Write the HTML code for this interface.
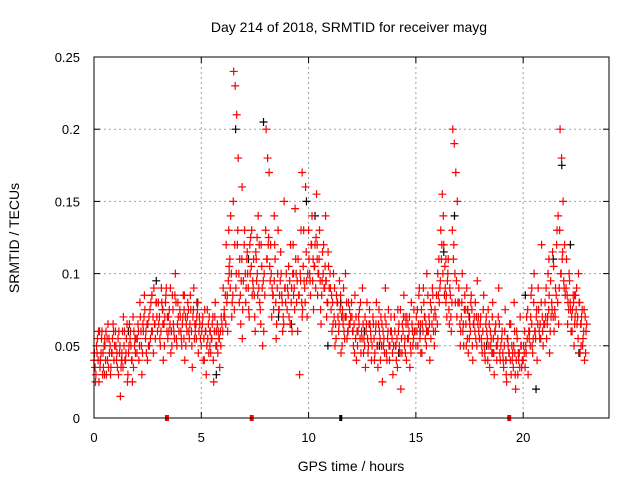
<!DOCTYPE html>
<html><head><meta charset="utf-8"><style>
html,body{margin:0;padding:0;background:#fff;}
svg{display:block;font-family:"Liberation Sans",sans-serif;}
</style></head><body>
<svg id="chart" width="640" height="480">
<text x="349" y="32" text-anchor="middle" font-size="14">Day 214 of 2018, SRMTID for receiver mayg</text>
<text transform="translate(19,238) rotate(-90)" text-anchor="middle" font-size="14">SRMTID / TECUs</text>
<text x="351" y="471" text-anchor="middle" font-size="14">GPS time / hours</text>
<g id="grid"></g>
<g id="ticks"></g>
<g id="black"></g>
<g id="red"></g>
<rect x="94" y="57" width="515" height="361" fill="none" stroke="#000" stroke-width="1"/>
</svg>
<script>
const xTicks=[0,5,10,15,20];
const yTicks=[0,0.05,0.1,0.15,0.2,0.25];
const yTickLabels=["0","0.05","0.1","0.15","0.2","0.25"];
const offsets=[0.02,0.09,0.16,0.23,0.3,0.37,0.44,0.51,0.58,0.65,0.72,0.79,0.86,0.93];
const offsets2=[0.05,0.12,0.19,0.26,0.33,0.4,0.47,0.54,0.61,0.68,0.75,0.82,0.89,0.96];
const offsets3=[0.0,0.07,0.14,0.21,0.28,0.35,0.42,0.49,0.56,0.63,0.7,0.77,0.84,0.91];
const redByHour=[
[.045,.03,.055,.025,.04,.06,.035,.05,.03,.065,.045,.035,.055,.04],
[.05,.035,.06,.015,.045,.07,.04,.055,.03,.065,.05,.025,.06,.045],
[.055,.04,.07,.03,.06,.075,.045,.065,.05,.08,.06,.09,.055,.07],
[.065,.05,.08,.04,.07,.09,.055,.075,.045,.085,.06,.1,.05,.07],
[.07,.05,.085,.04,.065,.08,.055,.075,.035,.09,.06,.07,.045,.065],
[.06,.04,.075,.03,.055,.07,.045,.065,.025,.08,.05,.06,.035,.07],
[.09,.07,.12,.06,.1,.14,.08,.24,.23,.21,.18,.11,.095,.075],
[.13,.09,.1,.07,.125,.085,.11,.06,.095,.14,.08,.12,.05,.1],
[.2,.18,.17,.12,.09,.075,.11,.065,.13,.085,.1,.06,.15,.08],
[.09,.07,.12,.06,.1,.145,.08,.11,.03,.13,.075,.095,.16,.07],
[.11,.085,.14,.075,.12,.155,.1,.13,.065,.115,.09,.14,.08,.105],
[.09,.06,.1,.05,.085,.07,.095,.045,.075,.06,.1,.055,.08,.065],
[.07,.05,.085,.04,.06,.075,.045,.09,.055,.035,.08,.05,.065,.04],
[.065,.045,.08,.035,.06,.07,.025,.055,.09,.04,.075,.05,.06,.03],
[.06,.04,.075,.05,.02,.065,.085,.045,.07,.055,.035,.08,.05,.06],
[.07,.05,.09,.045,.065,.08,.055,.1,.06,.04,.075,.085,.05,.07],
[.1,.08,.13,.155,.12,.09,.07,.11,.09,.06,.2,.19,.17,.15],
[.08,.06,.1,.05,.075,.09,.045,.065,.085,.04,.07,.055,.095,.06],
[.07,.045,.085,.04,.06,.075,.035,.055,.08,.03,.065,.05,.09,.04],
[.06,.035,.075,.025,.05,.065,.03,.045,.08,.02,.055,.04,.07,.035],
[.05,.035,.07,.03,.06,.085,.045,.1,.055,.04,.075,.065,.12,.05],
[.08,.055,.1,.045,.07,.115,.06,.09,.13,.065,.2,.18,.15,.12],
[.11,.08,.095,.06,.075,.05,.085,.065,.1,.045,.07,.055,.04,.06]
];
const redByHour2=[
[.035,.05,.04,.06,.045,.03,.05,.04,.055,.035,.05,.045,.065,.05],
[.04,.055,.045,.035,.06,.05,.04,.065,.045,.055,.04,.07,.05,.055],
[.065,.05,.06,.045,.07,.055,.065,.05,.075,.06,.07,.065,.08,.06],
[.07,.06,.075,.065,.08,.06,.07,.065,.06,.075,.055,.08,.065,.06],
[.06,.065,.055,.07,.06,.075,.065,.06,.07,.055,.065,.075,.06,.055],
[.065,.055,.06,.05,.065,.06,.055,.07,.06,.05,.065,.055,.06,.065],
[.07,.085,.08,.095,.11,.1,.085,.075,.09,.12,.1,.085,.11,.095],
[.1,.11,.09,.12,.105,.095,.085,.115,.1,.09,.075,.105,.095,.085],
[.11,.12,.105,.1,.085,.095,.08,.09,.075,.095,.085,.07,.09,.1],
[.085,.095,.08,.1,.09,.11,.095,.085,.1,.08,.105,.09,.115,.1],
[.1,.12,.095,.105,.09,.11,.1,.095,.085,.1,.09,.095,.08,.09],
[.075,.08,.07,.065,.08,.06,.075,.07,.065,.055,.07,.06,.065,.07],
[.06,.065,.055,.06,.07,.055,.06,.065,.05,.06,.055,.065,.06,.05],
[.055,.06,.05,.065,.055,.05,.06,.045,.065,.055,.05,.06,.055,.05],
[.05,.055,.06,.045,.055,.06,.05,.065,.055,.06,.05,.065,.055,.06],
[.06,.065,.055,.075,.06,.07,.065,.06,.07,.08,.065,.06,.075,.085],
[.085,.09,.11,.1,.085,.08,.095,.075,.085,.08,.11,.1,.095,.08],
[.065,.07,.06,.075,.065,.055,.07,.06,.075,.065,.06,.07,.065,.055],
[.055,.06,.05,.065,.055,.05,.06,.045,.055,.06,.05,.055,.065,.05],
[.045,.05,.04,.055,.045,.04,.05,.035,.045,.04,.03,.045,.05,.04],
[.045,.05,.055,.06,.05,.065,.055,.06,.07,.065,.06,.055,.07,.065],
[.07,.065,.075,.06,.08,.07,.075,.085,.08,.09,.1,.11,.095,.085],
[.085,.075,.08,.07,.085,.065,.075,.07,.08,.065,.075,.06,.07,.065]
];
const redByHour3=[
[.04,.025,.045,.06,.035,.055,.045,.03,.06,.04,.055,.03,.045,.06],
[.06,.045,.03,.05,.04,.035,.06,.045,.025,.05,.06,.04,.035,.055],
[.045,.06,.08,.05,.065,.085,.06,.04,.07,.055,.085,.045,.065,.08],
[.08,.055,.09,.065,.05,.085,.07,.06,.09,.05,.065,.085,.055,.08],
[.075,.055,.07,.085,.05,.07,.06,.085,.05,.075,.065,.055,.08,.07],
[.05,.07,.04,.06,.075,.045,.06,.055,.04,.07,.06,.045,.055,.05],
[.06,.075,.065,.085,.13,.09,.07,.15,.12,.1,.13,.08,.065,.055],
[.12,.08,.115,.075,.1,.13,.09,.07,.11,.085,.12,.065,.09,.06],
[.13,.11,.125,.095,.07,.085,.12,.055,.1,.075,.115,.08,.065,.09],
[.075,.105,.065,.09,.12,.075,.1,.06,.085,.095,.07,.13,.08,.095],
[.13,.095,.12,.11,.105,.125,.085,.11,.075,.095,.12,.105,.07,.115],
[.1,.085,.065,.09,.055,.08,.065,.085,.05,.09,.07,.08,.06,.075],
[.08,.06,.045,.07,.05,.065,.08,.055,.045,.07,.065,.045,.075,.055],
[.07,.04,.065,.05,.075,.04,.065,.05,.07,.045,.06,.04,.07,.045],
[.07,.05,.035,.065,.075,.045,.07,.055,.04,.065,.07,.045,.06,.075],
[.05,.075,.085,.065,.045,.09,.07,.05,.085,.065,.055,.09,.07,.06],
[.065,.11,.095,.12,.14,.105,.085,.1,.065,.07,.13,.12,.08,.07],
[.09,.05,.08,.065,.085,.05,.075,.055,.08,.05,.065,.08,.05,.07],
[.065,.05,.075,.045,.07,.04,.065,.05,.07,.045,.06,.04,.07,.045],
[.055,.04,.06,.03,.055,.045,.065,.04,.05,.03,.06,.045,.035,.05],
[.04,.06,.045,.075,.055,.07,.05,.08,.06,.075,.09,.055,.08,.06],
[.065,.09,.07,.085,.095,.075,.105,.07,.12,.14,.13,.1,.115,.09],
[.09,.065,.1,.075,.06,.08,.07,.09,.055,.08,.065,.05,.075,.045]
];
const redExtraT=[0.5,1.3,2.7,3.6,4.2,5.4,6.3,6.9,7.6,8.4,9.3,9.7,10.4,10.8,11.6,12.3,13.4,14.5,15.5,16.4,17.4,18.6,19.6,20.4,21.2,22.4,22.7];
const redExtraV=[.055,.04,.085,.06,.075,.05,.105,.16,.125,.14,.085,.17,.12,.095,.07,.06,.05,.07,.06,.11,.075,.045,.06,.09,.11,.085,.05];
const blackT=[0.3,1.6,2.9,3.2,4.8,5.7,6.6,7.2,7.9,8.6,9.2,9.9,10.3,10.9,11.5,12.6,13.3,14.2,15.2,16.3,16.8,17.5,18.3,19.2,20.1,20.6,21.4,21.8,22.2,22.6];
const blackV=[.04,.06,.095,.075,.08,.03,.2,.11,.205,.07,.065,.15,.14,.05,.08,.06,.05,.045,.06,.115,.14,.07,.05,.04,.085,.02,.11,.175,.12,.045];
const redGaps=[3.4,7.35,19.35];
const blackGaps=[11.5];
const X0=94,X1=609,Y0=418,Y1=57,XMAX=24,YMAX=0.25;
const sx=t=>X0+t/XMAX*(X1-X0), sy=v=>Y0-v/YMAX*(Y0-Y1);
const NS="http://www.w3.org/2000/svg";
function mk(tag,attrs,parent){const e=document.createElementNS(NS,tag);for(const k in attrs)e.setAttribute(k,attrs[k]);parent.appendChild(e);return e;}
const grid=document.getElementById('grid'),ticks=document.getElementById('ticks');
xTicks.forEach(t=>{
  if(t>0){const l=mk('line',{x1:sx(t),x2:sx(t),y1:Y1,y2:Y0,stroke:'#a0a0a0','stroke-dasharray':'2,3'},grid);
  
  }
  mk('line',{x1:sx(t),x2:sx(t),y1:Y0,y2:Y0-6,stroke:'#000'},ticks);
  mk('line',{x1:sx(t),x2:sx(t),y1:Y1,y2:Y1+6,stroke:'#000'},ticks);
  const tx=mk('text',{x:sx(t),y:Y0+24,'text-anchor':'middle','font-size':'13'},ticks);
  tx.textContent=String(t);
  
  
});
yTicks.forEach((v,i)=>{
  if(v>0&&v<YMAX){const l=mk('line',{x1:X0,x2:X1,y1:sy(v),y2:sy(v),stroke:'#a0a0a0','stroke-dasharray':'2,3'},grid);
  
  }
  mk('line',{x1:X0,x2:X0+6,y1:sy(v),y2:sy(v),stroke:'#000'},ticks);
  mk('line',{x1:X1,x2:X1-6,y1:sy(v),y2:sy(v),stroke:'#000'},ticks);
  const tx=mk('text',{x:X0-14,y:sy(v)+5,'text-anchor':'end','font-size':'13'},ticks);
  tx.textContent=yTickLabels[i];
  
  
});
function plus(g,t,v,color){
  const x=sx(t),y=sy(v);
  const p=mk('path',{d:`M${x-4},${y}H${x+4}M${x},${y-4}V${y+4}`,stroke:color,'stroke-width':'1.2',fill:'none'},g);
  
  
}
const bg=document.getElementById('black'),rg=document.getElementById('red');
blackT.forEach((t,i)=>plus(bg,t,blackV[i],'#000'));
blackGaps.forEach(t=>{const r=mk('rect',{x:sx(t)-1.5,y:Y0-3,width:3,height:6,fill:'#000'},bg);
  
  });
redByHour.forEach((vals,h)=>vals.forEach((v,i)=>plus(rg,h+offsets[i],v,'#ff0000')));
redByHour2.forEach((vals,h)=>vals.forEach((v,i)=>plus(rg,h+offsets2[i],v,'#ff0000')));
redByHour3.forEach((vals,h)=>vals.forEach((v,i)=>plus(rg,h+offsets3[i],v,'#ff0000')));
redExtraT.forEach((t,i)=>plus(rg,t,redExtraV[i],'#ff0000'));
redGaps.forEach(t=>{const r=mk('rect',{x:sx(t)-2,y:Y0-3,width:4,height:6,fill:'#ff0000'},rg);
  
  });
</script>
</body></html>
